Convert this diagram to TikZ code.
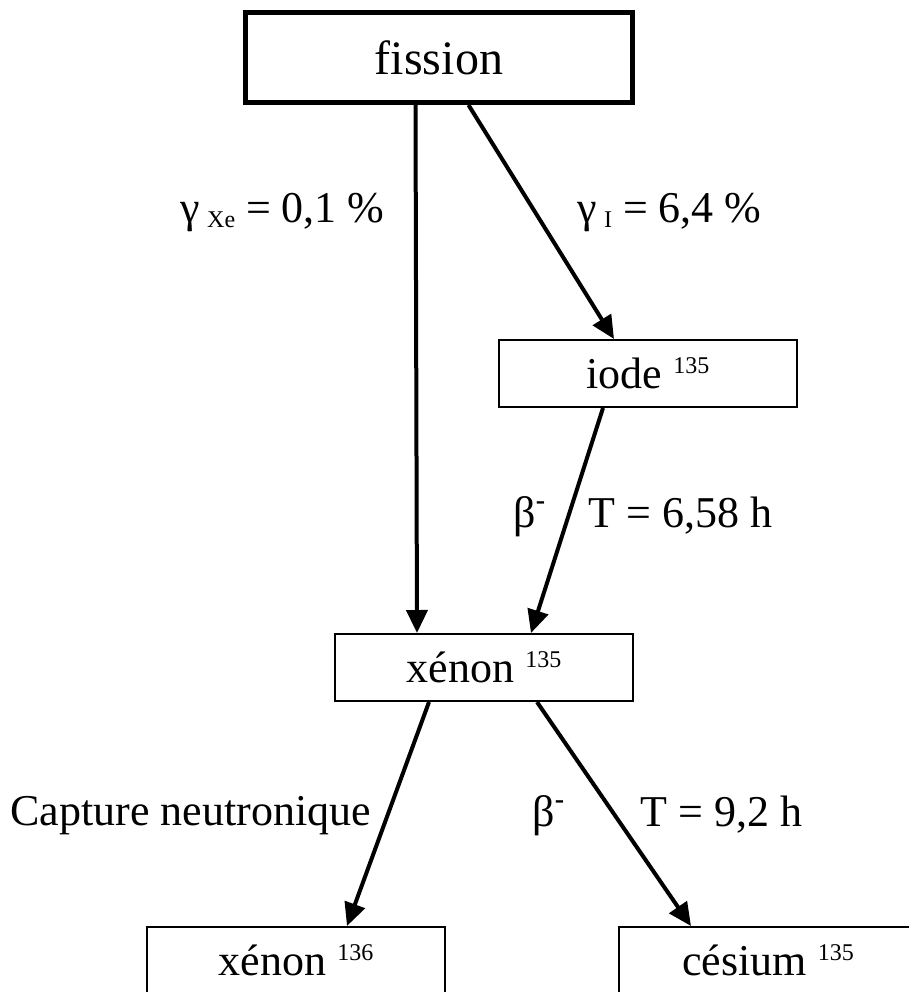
\documentclass[tikz,border=0pt]{standalone}
\usepackage{fontspec}
\setmainfont{Liberation Serif}
\usetikzlibrary{arrows.meta}
\newcommand{\supnum}[1]{\raisebox{7.5pt}{\fontsize{12}{14}\selectfont #1}}
\newcommand{\subtxt}[1]{\raisebox{-2.5pt}{\fontsize{12}{14}\selectfont #1}}
\newcommand{\betam}{β\raisebox{9pt}{\fontsize{14}{16}\selectfont\textbf{-}}}
\begin{document}
\begin{tikzpicture}[x=0.5pt,y=-0.5pt,
  box/.style={draw, line width=1pt, minimum width=149pt, minimum height=33.5pt,
    inner sep=0pt, font=\fontsize{22}{26}\selectfont},
  bigbox/.style={draw, line width=2.5pt, minimum width=193.5pt, minimum height=45pt,
    inner sep=0pt, font=\fontsize{24}{28}\selectfont},
  arr/.style={line width=2pt, -{Triangle[length=11.5pt,width=10.5pt]}},
  lab/.style={font=\fontsize{22}{26}\selectfont, inner sep=0pt, anchor=base west}]
\useasboundingbox (0,0) rectangle (909,992);
\clip (0,0) rectangle (909,992);

\node[bigbox] (fission) at (439,57.5) {fission};
\node[box] (iode) at (648,373.5) {iode \supnum{135}};
\node[box] (xe) at (484,667.5) {xénon \supnum{135}};
\node[box] (xe6) at (296,960.5) {xénon \supnum{136}};
\node[box] (cs) at (768,960.5) {césium \supnum{135}};

\draw[arr] ([xshift=86.25pt]fission.south west) -- ([xshift=41.5pt]xe.north west);
\draw[arr] ([xshift=112.75pt]fission.south west) -- ([xshift=58pt]iode.north west);
\draw[arr] ([xshift=52.5pt]iode.south west) -- ([xshift=98.5pt]xe.north west);
\draw[arr] ([xshift=47.5pt]xe.south west) -- ([xshift=100.5pt]xe6.north west);
\draw[arr] ([xshift=101.5pt]xe.south west) -- ([xshift=36.5pt]cs.north west);

\node[lab] (gxe) at (180,222) {γ\,\subtxt{Xe} = 0,1 \%};
\node[lab] (gi) at (577,222) {γ\,\subtxt{I} = 6,4 \%};
\node[lab] (b1) at (513,527) {\betam};
\node[lab] (t1) at (588,527) {T = 6,58 h};
\node[lab] (cap) at (10,825) {Capture neutronique};
\node[lab] (b2) at (532,826) {\betam};
\node[lab] (t2) at (640,826) {T = 9,2 h};
\end{tikzpicture}
\end{document}
